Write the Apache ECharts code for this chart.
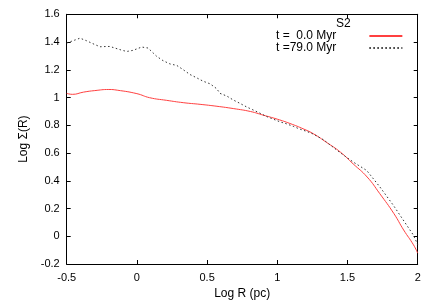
<!DOCTYPE html>
<html>
<head>
<meta charset="utf-8">
<script src="https://cdn.jsdelivr.net/npm/echarts@6/dist/echarts.min.js"></script>
<style>html,body{margin:0;padding:0;background:#fff}#c{width:436px;height:305px}</style>
</head>
<body>
<div id="c"></div>
<script>
var keyTitle = 'S2';
var seriesNames = ['t =  0.0 Myr', 't =79.0 Myr'];
var xAxisTitle = 'Log R (pc)';
var yAxisTitle = 'Log \u03A3(R)';

var initialProfile = [
  [-0.5,1.030],[-0.46,1.023],[-0.38,1.039],[-0.3,1.050],[-0.2,1.058],[-0.14,1.053],
  [0.0,1.028],[0.09,0.999],[0.21,0.980],[0.33,0.963],[0.45,0.951],[0.57,0.937],
  [0.69,0.920],[0.81,0.899],[0.90,0.873],[1.0,0.844],[1.09,0.813],[1.19,0.772],
  [1.26,0.737],[1.35,0.677],[1.45,0.606],[1.54,0.522],[1.64,0.427],[1.73,0.307],
  [1.83,0.164],[1.90,0.045],[1.97,-0.062],[2.0,-0.122]
];
var laterProfile = [
  [-0.5,1.393],[-0.405,1.428],[-0.358,1.409],[-0.313,1.388],[-0.263,1.366],[-0.215,1.368],
  [-0.192,1.368],[-0.12,1.345],[-0.073,1.332],[-0.028,1.340],[0.034,1.364],[0.079,1.357],
  [0.141,1.297],[0.186,1.266],[0.236,1.242],[0.283,1.232],[0.328,1.202],[0.378,1.166],
  [0.426,1.142],[0.471,1.118],[0.521,1.099],[0.568,1.064],[0.592,1.030],[0.640,1.011],
  [0.687,0.982],[0.734,0.958],[0.782,0.932],[0.829,0.910],[0.877,0.887],[0.924,0.863],
  [0.972,0.844],[1.019,0.825],[1.067,0.810],[1.114,0.792],[1.162,0.772],[1.209,0.756],
  [1.256,0.737],[1.328,0.696],[1.399,0.641],[1.470,0.586],[1.541,0.535],[1.637,0.474],
  [1.731,0.355],[1.826,0.224],[1.897,0.117],[1.969,0.009],[2.0,-0.060]
];

var FONT = 'Liberation Sans, Arial, Helvetica, sans-serif';
var chart = echarts.init(document.getElementById('c'), null, {renderer: 'canvas'});

function frameAxis(pos, isX) {
  return {
    type: 'value', position: pos,
    min: isX ? -0.5 : -0.2, max: isX ? 2 : 1.6, interval: isX ? 0.5 : 0.2,
    axisLine: {show: true, onZero: false, lineStyle: {color: '#000', width: 1}},
    axisTick: {show: true, inside: true, length: 4, lineStyle: {color: '#000'}},
    axisLabel: {show: false}, splitLine: {show: false}
  };
}

chart.setOption({
  animation: false,
  backgroundColor: '#fff',
  textStyle: {fontFamily: FONT},
  title: {
    text: keyTitle, left: 336, top: 18, padding: 0,
    textStyle: {fontFamily: FONT, fontSize: 12, fontWeight: 'normal', color: '#000'}
  },
  legend: {
    orient: 'vertical', left: 276, top: 30, align: 'right', padding: 0,
    itemWidth: 33, itemHeight: 12, itemGap: 0,
    data: seriesNames,
    itemStyle: {opacity: 0},
    textStyle: {fontFamily: FONT, fontSize: 12, color: '#000', padding: [0, 28, 0, 0]}
  },
  grid: {left: 66.7, right: 18.3, top: 14.3, bottom: 39, containLabel: false},
  xAxis: [{
    type: 'value', position: 'bottom',
    min: -0.5, max: 2, interval: 0.5,
    name: xAxisTitle, nameLocation: 'middle', nameGap: 24,
    nameTextStyle: {fontFamily: FONT, fontSize: 12, color: '#000'},
    axisLine: {show: true, onZero: false, lineStyle: {color: '#000', width: 1}},
    axisTick: {show: true, inside: true, length: 4, lineStyle: {color: '#000'}},
    axisLabel: {color: '#000', fontSize: 11, fontFamily: FONT, margin: 8},
    splitLine: {show: false}
  }, frameAxis('top', true)],
  yAxis: [{
    type: 'value', position: 'left',
    min: -0.2, max: 1.6, interval: 0.2,
    name: yAxisTitle, nameLocation: 'middle', nameGap: 36,
    nameTextStyle: {fontFamily: FONT, fontSize: 12, color: '#000'},
    axisLine: {show: true, onZero: false, lineStyle: {color: '#000', width: 1}},
    axisTick: {show: true, inside: true, length: 4, lineStyle: {color: '#000'}},
    axisLabel: {color: '#000', fontSize: 11, fontFamily: FONT, margin: 7},
    splitLine: {show: false}
  }, frameAxis('right', false)],
  series: [{
    name: seriesNames[0], type: 'line', data: initialProfile,
    xAxisIndex: 0, yAxisIndex: 0,
    showSymbol: false, symbol: 'none', smooth: 0.5,
    lineStyle: {color: '#ff4040', width: 1},
    itemStyle: {color: '#ff4040'}
  }, {
    name: seriesNames[1], type: 'line', data: laterProfile,
    xAxisIndex: 0, yAxisIndex: 0,
    showSymbol: false, symbol: 'none',
    lineStyle: {color: '#333', width: 1, type: [1.5, 2.5]},
    itemStyle: {color: '#333'}
  }]
});
</script>
</body>
</html>
